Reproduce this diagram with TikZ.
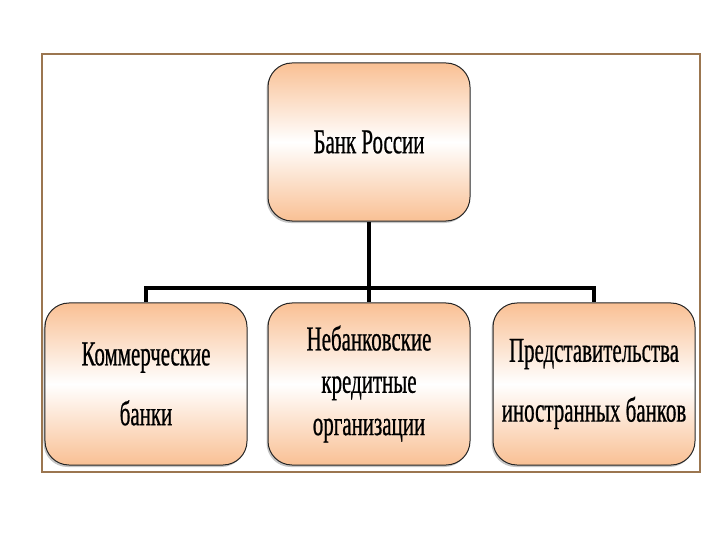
\documentclass[tikz,border=0pt]{standalone}
\usepackage{fontspec}
\newfontfamily\boxfont[FakeStretch=0.6,FakeBold=0.6]{Liberation Serif}
\usetikzlibrary{shadows}
\definecolor{peach}{RGB}{249,192,148}
\definecolor{framebrown}{RGB}{155,118,80}
\tikzset{
  orgbox/.style={draw=black!85, line width=1bp, rounded corners=24bp,
    top color=peach, bottom color=peach, middle color=white,
    minimum width=202bp, align=center, inner sep=0pt,
    font=\boxfont\fontsize{35}{42.5}\selectfont,
    drop shadow={shadow xshift=-1.5bp, shadow yshift=-2bp, opacity=0.45}},
  conn/.style={line width=4.8bp, black}
}
\begin{document}
\begin{tikzpicture}[x=1bp,y=-1bp]
  \useasboundingbox (0,0) rectangle (720,540);
  % frame
  \draw[framebrown, line width=2.5bp] (42,54) rectangle (700,472);
  % boxes
  \node[orgbox, minimum height=158bp] (cb) at (369,142) {Банк России};
  \node[orgbox, minimum height=162bp] (kb) at (146,384) {Коммерческие\\[17.5bp]банки};
  \node[orgbox, minimum height=162bp] (nko) at (369,384) {Небанковские\\кредитные\\организации};
  \node[orgbox, minimum height=162bp] (pib) at (594,384) {Представительства\\[17.5bp]иностранных банков};
  % connectors
  \coordinate (bus) at (369,288);
  \draw[conn] (cb.south) -- (nko.north);
  \draw[conn] (kb.north) |- (bus) -| (pib.north);
\end{tikzpicture}
\end{document}
